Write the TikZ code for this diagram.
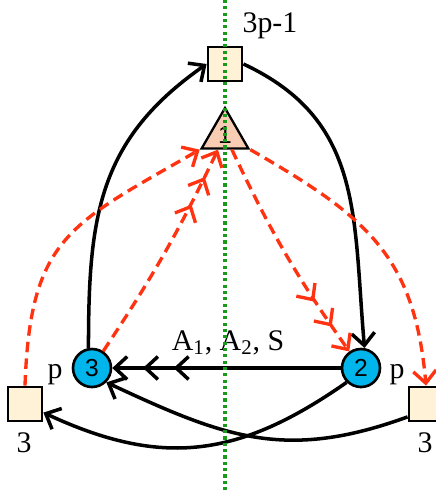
\documentclass[tikz,border=0pt]{standalone}
\usepackage{fontspec}
\setmainfont{Liberation Serif}
\setsansfont{Liberation Sans}
\usetikzlibrary{positioning,arrows.meta,shapes.geometric,calc}

\definecolor{cream}{HTML}{FFF2D6}
\definecolor{peach}{HTML}{F8CDB3}
\definecolor{ballblue}{HTML}{00B4EC}
\definecolor{depred}{HTML}{FF3311}
\definecolor{axisgreen}{HTML}{1A9A1A}

\begin{document}
\begin{tikzpicture}[
    x=0.02cm, y=0.02cm,
    blk/.style={draw=black, line width=1.6pt, fill=cream, minimum size=0.68cm, inner sep=0pt},
    proc/.style={circle, draw=black, line width=1.5pt, fill=ballblue, minimum size=0.76cm, inner sep=0pt, font=\fontsize{14}{16}\sffamily},
    tri/.style={regular polygon, regular polygon sides=3, draw=black, line width=1.3pt, fill=peach, minimum size=1.08cm, inner sep=0pt, font=\fontsize{14}{16}\sffamily},
    lbl/.style={inner sep=0pt, font=\fontsize{17}{20}\selectfont},
    flow/.style={draw=black, line width=2pt, -{Straight Barb[length=7pt,width=13pt]}},
    multi/.style={-{Straight Barb[length=7pt,width=13pt,sep=8pt]Straight Barb[length=7pt,width=13pt,sep=8pt]Straight Barb[length=7pt,width=13pt]}},
    dep/.style={draw=depred, line width=1.9pt, dash pattern=on 6pt off 3.5pt},
    single/.style={-{Straight Barb[length=7pt,width=13pt]}},
    axis/.style={draw=axisgreen, line width=2pt, dash pattern=on 1.8pt off 1.8pt}
]
\useasboundingbox (0,0) rectangle (436,-491);

% nodes
\node[blk] (top) at (225,-64) {};
\node[tri] (apex) at (225,-135) {1};
\node[proc] (p3) at (92,-368) {3};
\node[proc] (p2) at (361,-368) {2};
\node[blk] (lsq) at (25,-404) {};
\node[blk] (rsq) at (426,-404) {};

% labels
\node[lbl, anchor=base] (toplbl) at (270,-32) {3p-1};
\node[lbl, anchor=base] (pleft) at (55,-378) {p};
\node[lbl, anchor=base] (pright) at (397,-378) {p};
\node[lbl, anchor=base] (lsqlbl) at (24,-452) {3};
\node[lbl, anchor=base] (rsqlbl) at (425,-452) {3};
\node[lbl, anchor=base] (msglbl) at (228,-350) {A\textsubscript{1}, A\textsubscript{2}, S};

% black flows
\draw[flow] (p3.100) to[out=90, in=215, looseness=1.1] (top.west);
\draw[flow] (top.east) to[out=-25, in=95, looseness=1.1] (p2.80);
\draw[draw=black, line width=2pt, multi] (p2) -- (p3);
\draw[flow] (p2.225) to[out=215, in=-25, looseness=1.1] (lsq.-25);
\draw[flow] (rsq.215) to[out=200, in=-25, looseness=1.1] (p3.-45);

% red dependencies
\draw[dep, multi] (p3) to[bend right=4] (apex);
\draw[dep, multi] (apex) to[bend right=5] (p2);
\draw[dep, single] (lsq.north) to[out=88, in=210, looseness=1.3] (apex.corner 2);
\draw[dep, single] (apex.corner 3) to[out=-30, in=95, looseness=1.15] (rsq.north);

% axis
\coordinate (axtop) at (225,0);
\coordinate (axbot) at (225,-491);
\draw[axis] (axtop) -- (axbot);
\end{tikzpicture}
\end{document}
